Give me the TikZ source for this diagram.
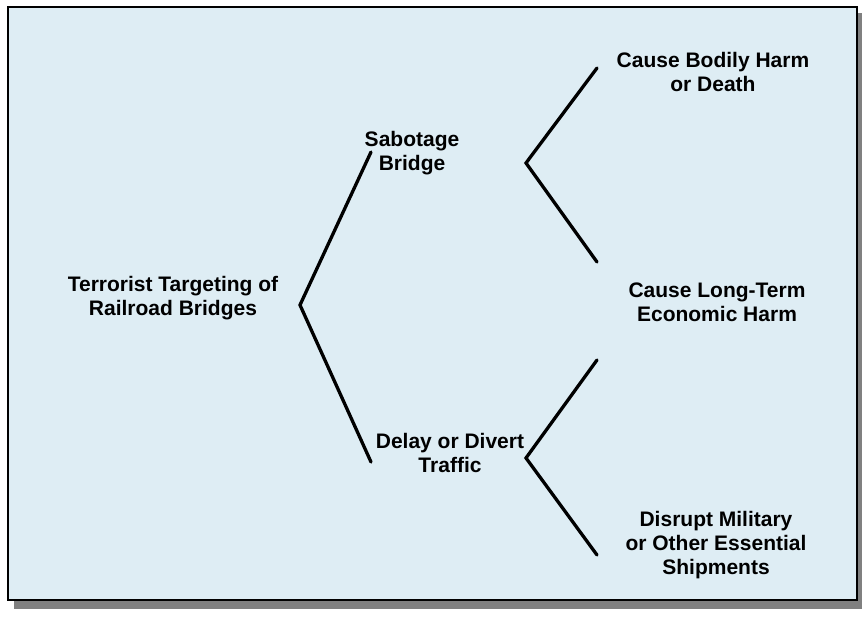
\documentclass[tikz,border=0pt]{standalone}
\usepackage{fontspec}
\setmainfont{Liberation Sans}
\usetikzlibrary{positioning}
\definecolor{panelblue}{RGB}{222,237,244}
\definecolor{shadowgray}{RGB}{128,128,128}

\begin{document}
\begin{tikzpicture}[x=1pt,y=-1pt,
  label/.style={font=\bfseries\fontsize{21}{24}\selectfont, align=center, inner sep=0pt},
  branch/.style={line width=3.3pt, line cap=round}]
\useasboundingbox (0,0) rectangle (862,616);

% Panel with drop shadow
\fill[shadowgray] (14,13) rectangle (862,609);
\draw[line width=1.6pt, fill=panelblue] (8,7) rectangle (857,600);

% Labels
\node[label] (root) at (173,298) {Terrorist Targeting of\\Railroad Bridges};
\node[label] (sabotage) at (412,153) {Sabotage\\Bridge};
\node[label] (delay) at (450,453) {Delay or Divert\\Traffic};
\node[label] (harm) at (713,72) {Cause Bodily Harm\\or Death};
\node[label] (econ) at (717,302) {Cause Long-Term\\Economic Harm};
\node[label] (disrupt) at (716,545) {Disrupt Military\\or Other Essential\\Shipments};

% Branch points
\coordinate (rootfork) at (300,305);
\coordinate (sabfork) at (526,163);
\coordinate (delfork) at (526,458);

% Branches
\draw[branch] (371,152) -- (rootfork) -- (371,462);
\draw[branch] (597,68) -- (sabfork) -- (597,262);
\draw[branch] (597,360) -- (delfork) -- (597,555);
\end{tikzpicture}
\end{document}
